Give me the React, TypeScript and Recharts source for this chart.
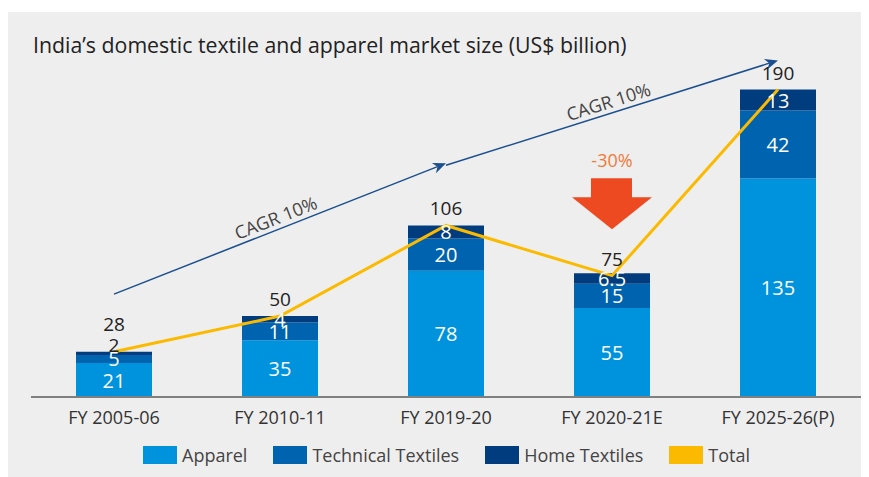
import React from 'react';
import { ComposedChart, Bar, Line, XAxis, YAxis, LabelList, ReferenceLine, ReferenceDot } from 'recharts';

const categories = ['FY 2005-06', 'FY 2010-11', 'FY 2019-20', 'FY 2020-21E', 'FY 2025-26(P)'];
const apparel = [21, 35, 78, 55, 135];
const technical = [5, 11, 20, 15, 42];
const home = [2, 4, 8, 6.5, 13];
const totals = [28, 50, 106, 75, 190];

const seriesNames = ['Apparel', 'Technical Textiles', 'Home Textiles', 'Total'];
const seriesColors = ['#0093DD', '#0063AF', '#003C7E', '#FBBA00'];

// CAGR annotation arrows (category, value) pairs
const cagrFrom = [
  { x: 'FY 2005-06', y: 63.6 },
  { x: 'FY 2019-20', y: 143.2 },
];
const cagrTo = [
  { x: 'FY 2019-20', y: 144.4 },
  { x: 'FY 2025-26(P)', y: 208 },
];
const cagrLabels = ['CAGR 10%', 'CAGR 10%'];

const dropCategory = 'FY 2020-21E';
const dropValue = 103.7;
const dropLabel = '-30%';

const data = categories.map((c, i) => ({
  name: c,
  apparel: apparel[i],
  technical: technical[i],
  home: home[i],
  total: totals[i],
}));

const W = 861;
const H = 465;
const MARGIN = { top: 29, right: 8, bottom: 50, left: 23 };
const XAXIS_H = 30;
const Y_MAX = 220;
const PLOT_H = H - MARGIN.top - MARGIN.bottom - XAXIS_H;
const PX = PLOT_H / Y_MAX;
const FONT = '"Open Sans", sans-serif';

const getBox = (p: any) => {
  const vb = p.viewBox || {};
  return {
    x: p.x ?? vb.x,
    y: p.y ?? vb.y,
    width: p.width ?? vb.width ?? 0,
    height: p.height ?? vb.height ?? 0,
  };
};

const SegLabel = (p: any) => {
  const { x, y, width, height } = getBox(p);
  const h = Math.abs(height);
  const top = Math.min(y, y + height);
  if (h < 5) {
    return (
      <text x={x + width / 2} y={top - 7} fill="#222" textAnchor="middle" dominantBaseline="central" fontSize={19} fontFamily={FONT}>
        {p.value}
      </text>
    );
  }
  return (
    <text x={x + width / 2} y={top + h / 2} fill="#ffffff" textAnchor="middle" dominantBaseline="central" fontSize={20} fontFamily={FONT}>
      {p.value}
    </text>
  );
};

const TotalLabel = (p: any) => {
  const { x, y } = getBox(p);
  const idx = p.index ?? 0;
  const off = home[idx] * PX < 5 ? 28 : 17;
  return (
    <text x={x} y={y - off} fill="#222" textAnchor="middle" dominantBaseline="central" fontSize={19} fontFamily={FONT}>
      {p.value}
    </text>
  );
};

const makeArrowShape = (label: string) => (p: any) => {
  const { x1, y1, x2, y2 } = p;
  const ang = Math.atan2(y2 - y1, x2 - x1);
  const deg = (ang * 180) / Math.PI;
  const len = 13;
  const wid = 5.5;
  const bx = x2 - len * Math.cos(ang);
  const by = y2 - len * Math.sin(ang);
  const nx = x2 - len * 0.7 * Math.cos(ang);
  const ny = y2 - len * 0.7 * Math.sin(ang);
  const px = -Math.sin(ang);
  const py = Math.cos(ang);
  const pts = `${x2},${y2} ${bx + px * wid},${by + py * wid} ${nx},${ny} ${bx - px * wid},${by - py * wid}`;
  const mx = (x1 + x2) / 2;
  const my = (y1 + y2) / 2;
  return (
    <g>
      <line x1={x1} y1={y1} x2={nx} y2={ny} stroke="#1B4F8E" strokeWidth={1.5} />
      <polygon points={pts} fill="#1B4F8E" />
      <text x={mx} y={my - 5} transform={`rotate(${deg} ${mx} ${my})`} textAnchor="middle" fill="#444" fontSize={18} fontFamily={FONT}>
        {label}
      </text>
    </g>
  );
};

const DropArrow = (p: any) => {
  const { cx, cy } = p;
  const pts = `${cx - 21},${cy - 51} ${cx + 20},${cy - 51} ${cx + 20},${cy - 32} ${cx + 40},${cy - 32} ${cx},${cy} ${cx - 40},${cy - 32} ${cx - 21},${cy - 32}`;
  return (
    <g>
      <polygon points={pts} fill="#EE4A22" />
      <text x={cx} y={cy - 69} textAnchor="middle" dominantBaseline="central" fill="#F07A3A" fontSize={18} fontFamily={FONT}>
        {dropLabel}
      </text>
    </g>
  );
};

const Tick = (p: any) => {
  const { x, y, payload } = p;
  return (
    <text x={x} y={y} dy="0.71em" textAnchor="middle" fill="#333" fontSize={18} fontFamily={FONT}>
      {payload.value}
    </text>
  );
};

export default function App() {
  return (
    <div style={{ paddingTop: 4 }}>
      <div style={{ position: 'relative', width: W, height: H, background: '#EEEEEE', fontFamily: FONT }}>
        <div style={{ position: 'absolute', left: 25, top: 19, fontSize: 21.3, color: '#222', whiteSpace: 'nowrap', lineHeight: '28px' }}>
          India’s domestic textile and apparel market size (US$ billion)
        </div>
        <div style={{ position: 'absolute', left: 0, top: 432, width: W }}>
          <div style={{ display: 'flex', justifyContent: 'flex-start', paddingLeft: 135, alignItems: 'center', gap: 26 }}>
            {seriesNames.map((n, i) => (
              <div key={n} style={{ display: 'flex', alignItems: 'center', gap: 5 }}>
                <div style={{ width: 34, height: 18, background: seriesColors[i] }} />
                <span style={{ fontSize: 18, color: '#444', lineHeight: '22px' }}>{n}</span>
              </div>
            ))}
          </div>
        </div>
        <div style={{ position: 'absolute', left: 0, top: 0 }}>
          <ComposedChart width={W} height={H} data={data} margin={MARGIN}>
            <XAxis
              dataKey="name"
              height={XAXIS_H}
              tickLine={false}
              tickMargin={8}
              axisLine={{ stroke: '#808080', strokeWidth: 2 }}
              tick={<Tick />}
              interval={0}
            />
            <YAxis hide domain={[0, Y_MAX]} allowDataOverflow />
            <Bar dataKey="apparel" name={seriesNames[0]} stackId="a" fill={seriesColors[0]} barSize={76} isAnimationActive={false}>
              <LabelList dataKey="apparel" content={SegLabel} />
            </Bar>
            <Bar dataKey="technical" name={seriesNames[1]} stackId="a" fill={seriesColors[1]} barSize={76} isAnimationActive={false}>
              <LabelList dataKey="technical" content={SegLabel} />
            </Bar>
            <Bar dataKey="home" name={seriesNames[2]} stackId="a" fill={seriesColors[2]} barSize={76} isAnimationActive={false}>
              <LabelList dataKey="home" content={SegLabel} />
            </Bar>
            <Line dataKey="total" name={seriesNames[3]} type="linear" stroke={seriesColors[3]} strokeWidth={3} dot={false} activeDot={false} isAnimationActive={false}>
              <LabelList dataKey="total" content={TotalLabel} />
            </Line>
            {cagrFrom.map((f, i) => (
              <ReferenceLine key={i} segment={[f, cagrTo[i]]} ifOverflow="visible" shape={makeArrowShape(cagrLabels[i])} />
            ))}
            <ReferenceDot x={dropCategory} y={dropValue} ifOverflow="visible" shape={DropArrow} />
          </ComposedChart>
        </div>
      </div>
    </div>
  );
}
